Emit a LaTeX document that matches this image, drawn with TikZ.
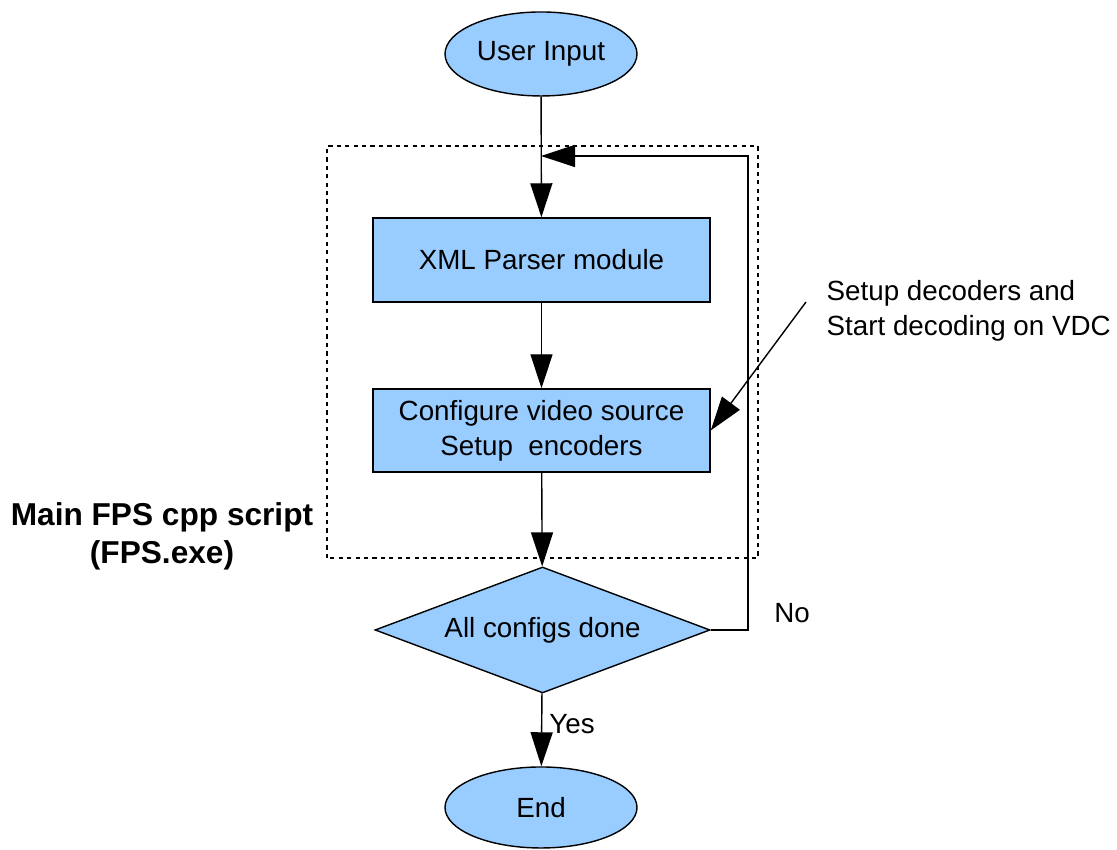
\documentclass[tikz,border=0pt]{standalone}
\usepackage{fontspec}
\setmainfont{Liberation Sans}
\usetikzlibrary{shapes.geometric,arrows.meta}
\definecolor{boxblue}{HTML}{99CCFF}
\begin{document}
\begin{tikzpicture}[
  font=\fontsize{7.9}{9.9}\selectfont,
  every node/.style={inner sep=0pt},
  line/.style={draw=black, line width=0.4pt},
  flowarrow/.style={line, -{Triangle[length=0.34cm, width=0.22cm]}},
  terminal/.style={ellipse, line, fill=boxblue, minimum width=1.92cm, minimum height=0.84cm},
  process/.style={rectangle, line, fill=boxblue, minimum width=3.37cm, minimum height=0.84cm, align=center},
  decision/.style={diamond, aspect=2.66, line, fill=boxblue, minimum width=3.35cm, minimum height=1.26cm},
]
\useasboundingbox (0,0) rectangle (11.17,8.5);

% scope of the main script
\draw[line, dash pattern=on 1.2pt off 1.2pt] (3.27,2.92) rectangle (7.58,7.04);

% flow nodes
\node[terminal] (input) at (5.41,7.96) {User Input};
\node[process] (xml) at (5.415,5.90) {XML Parser module};
\node[process, minimum height=0.83cm] (cfg) at (5.415,4.195) {Configure video source\\Setup\ \ encoders};
\node[decision] (done) at (5.425,2.20) {All configs done};
\node[terminal, minimum height=0.81cm] (end) at (5.41,0.425) {End};

% loop entry point on the main line
\coordinate (loopin) at (5.41,6.94);
\coordinate (loopright) at (7.48,2.20);

% connectors
\draw[flowarrow] (input) -- (xml);
\draw[flowarrow] (xml) -- (cfg);
\draw[flowarrow] (cfg) -- (done);
\draw[flowarrow] (done) -- (end);
\draw[flowarrow] (done.east) -- (loopright) |- (loopin);

% labels
\node (yes) at (5.72,1.26) {Yes};
\node (no) at (7.92,2.37) {No};
\node[align=left, anchor=west] (note) at (8.26,5.395) {Setup decoders and\\Start decoding on VDC};
\coordinate (noteend) at (8.06,5.48);
\draw[flowarrow] (noteend) -- (cfg.east);
\node[align=center, font=\fontsize{9}{11}\selectfont\bfseries] (main) at (1.62,3.135) {Main FPS cpp script\\(FPS.exe)};
\end{tikzpicture}
\end{document}
